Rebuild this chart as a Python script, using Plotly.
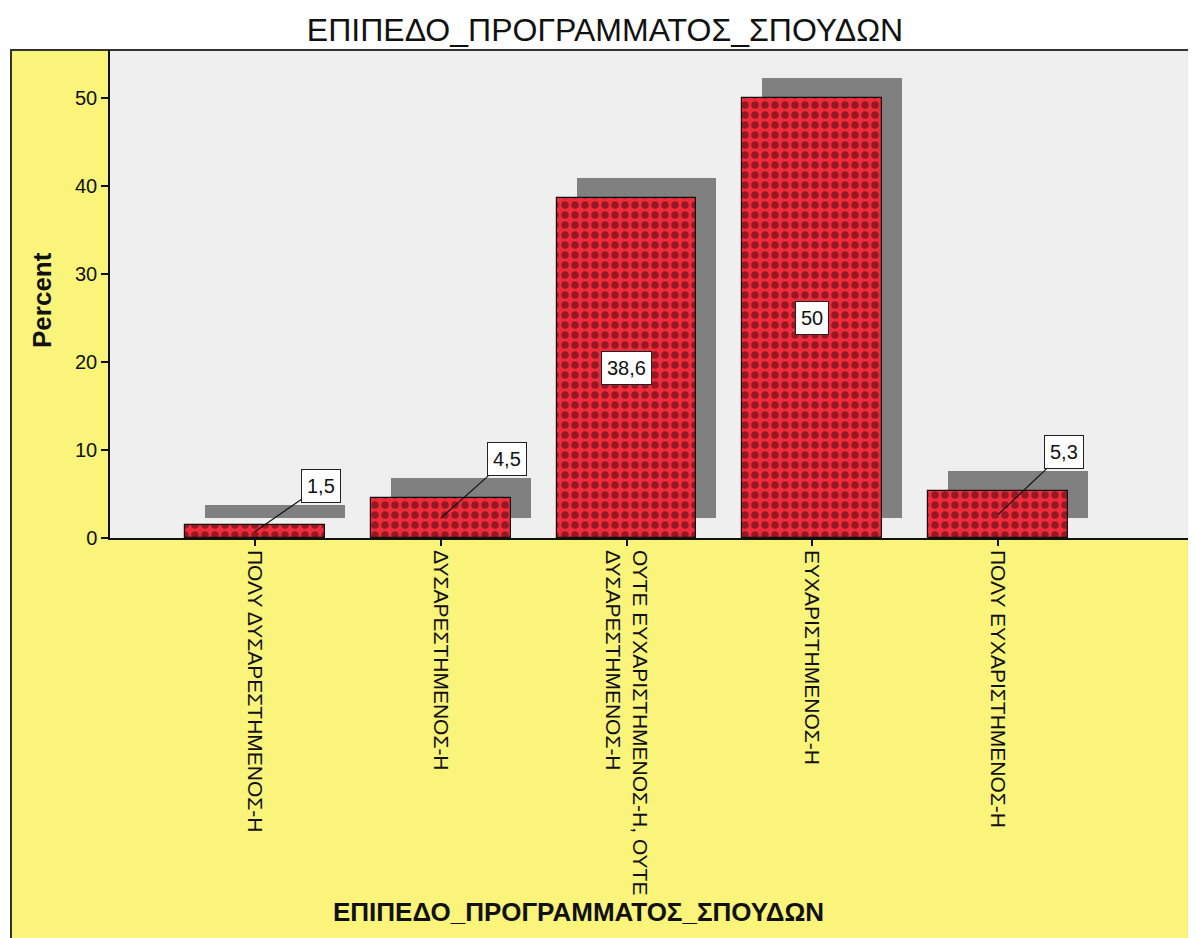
import plotly.graph_objects as go

# ---------------- data ----------------
categories = [
    "ΠΟΛΥ ΔΥΣΑΡΕΣΤΗΜΕΝΟΣ-Η",
    "ΔΥΣΑΡΕΣΤΗΜΕΝΟΣ-Η",
    "ΟΥΤΕ ΕΥΧΑΡΙΣΤΗΜΕΝΟΣ-Η, ΟΥΤΕ<br>ΔΥΣΑΡΕΣΤΗΜΕΝΟΣ-Η",
    "ΕΥΧΑΡΙΣΤΗΜΕΝΟΣ-Η",
    "ΠΟΛΥ ΕΥΧΑΡΙΣΤΗΜΕΝΟΣ-Η",
]
percent = [1.5, 4.5, 38.6, 50.0, 5.3]
value_labels = ["1,5", "4,5", "38,6", "50", "5,3"]
y_ticks = [0, 10, 20, 30, 40, 50]
chart_title = "ΕΠΙΠΕΔΟ_ΠΡΟΓΡΑΜΜΑΤΟΣ_ΣΠΟΥΔΩΝ"
x_title = "ΕΠΙΠΕΔΟ_ΠΡΟΓΡΑΜΜΑΤΟΣ_ΣΠΟΥΔΩΝ"
y_title = "Percent"

# ---------------- layout geometry ----------------
OFF = 8                      # page body margin
W, H = 1196 - OFF, 938 - OFF
ML, MR, MT, MB = 110 - OFF, 1, 50 - OFF, 400
plot_w = W - ML - MR
plot_h = H - MT - MB
x_range = [-0.781, 5.061]
y_range = [0, 55.45]
px_x = plot_w / (x_range[1] - x_range[0])
px_y = plot_h / (y_range[1] - y_range[0])


def paper_x(sx):
    return (sx - OFF - ML) / plot_w


def paper_y(sy):
    return (MT + plot_h - (sy - OFF)) / plot_h


FONT = "Liberation Sans, Arial, sans-serif"
bar_w = 0.753
shadow_dx = 20 / px_x
shadow_base = 2.3
idx = list(range(len(categories)))

fig = go.Figure()

# shadow bars
fig.add_trace(go.Bar(
    x=[i + shadow_dx for i in idx], y=percent, base=shadow_base,
    width=bar_w, marker=dict(color="#808080", line=dict(width=0)),
    hoverinfo="skip", showlegend=False,
))

# main bars
fig.add_trace(go.Bar(
    x=idx, y=percent, width=bar_w,
    marker=dict(
        color="#f02c3c",
        line=dict(color="#111111", width=1.2),
        pattern=dict(shape=".", bgcolor="#f02c3c", fgcolor="#3a0508",
                     size=10, solidity=0.45, fillmode="overlay"),
    ),
    hoverinfo="skip", showlegend=False,
))

# value labels
for i, (v, t) in enumerate(zip(percent, value_labels)):
    common = dict(
        x=i, y=v / 2, xref="x", yref="y", text=t,
        font=dict(family=FONT, size=20, color="#111111"),
        bgcolor="white", bordercolor="#222222", borderwidth=1, borderpad=5,
    )
    if v >= 10:
        fig.add_annotation(showarrow=False, **common)
    else:
        fig.add_annotation(
            showarrow=True, arrowhead=0, arrowwidth=1.2, arrowcolor="#111111",
            ax=66, ay=-((v / 2 + 2.5) * px_y + 17), standoff=0, **common)

# background shapes: yellow frame area, plot-area grey, outline
fig.add_shape(type="rect", xref="paper", yref="paper",
              x0=paper_x(11), x1=paper_x(1195), y0=paper_y(960), y1=paper_y(50),
              fillcolor="#faf47a", line=dict(width=0), layer="below")
fig.add_shape(type="rect", xref="paper", yref="paper",
              x0=0, x1=1, y0=0, y1=1,
              fillcolor="#efefef", line=dict(width=0), layer="below")
fig.add_shape(type="rect", xref="paper", yref="paper",
              x0=paper_x(11), x1=paper_x(1194), y0=paper_y(960), y1=paper_y(50),
              fillcolor="rgba(0,0,0,0)", line=dict(color="#333333", width=2),
              layer="below")

# axis titles
fig.add_annotation(x=paper_x(578), y=paper_y(912), xref="paper", yref="paper",
                   text="<b>" + x_title + "</b>", showarrow=False,
                   font=dict(family=FONT, size=26, color="#111111"),
                   xanchor="center", yanchor="middle")
fig.add_annotation(x=paper_x(42), y=paper_y(300), xref="paper", yref="paper",
                   text="<b>" + y_title + "</b>", showarrow=False, textangle=-90,
                   font=dict(family=FONT, size=26, color="#111111"),
                   xanchor="center", yanchor="middle")

fig.update_layout(
    width=W, height=H,
    margin=dict(l=ML, r=MR, t=MT, b=MB, pad=0),
    template="none",
    paper_bgcolor="white",
    plot_bgcolor="rgba(0,0,0,0)",
    barmode="overlay",
    bargap=0,
    showlegend=False,
    title=dict(text=chart_title, x=(605 - OFF) / W, xref="container", xanchor="center",
               y=1 - (30 - OFF) / H, yref="container", yanchor="middle",
               font=dict(family=FONT, size=32, color="#111111")),
    xaxis=dict(
        range=x_range, tickmode="array", tickvals=idx, ticktext=categories,
        tickangle=90, ticks="outside", ticklen=6, tickwidth=1.5, tickcolor="#111111",
        showline=True, linecolor="#111111", linewidth=1.5, showgrid=False,
        zeroline=False, automargin=False,
        tickfont=dict(family=FONT, size=21, color="#111111"),
    ),
    yaxis=dict(
        range=y_range, tickmode="array", tickvals=y_ticks,
        ticktext=[str(t) for t in y_ticks],
        ticks="outside", ticklen=7, tickwidth=1.5, tickcolor="#111111",
        showline=True, linecolor="#111111", linewidth=1.5, showgrid=False,
        zeroline=False, automargin=False,
        tickfont=dict(family=FONT, size=20, color="#111111"),
    ),
)

fig.write_html("out.html")
